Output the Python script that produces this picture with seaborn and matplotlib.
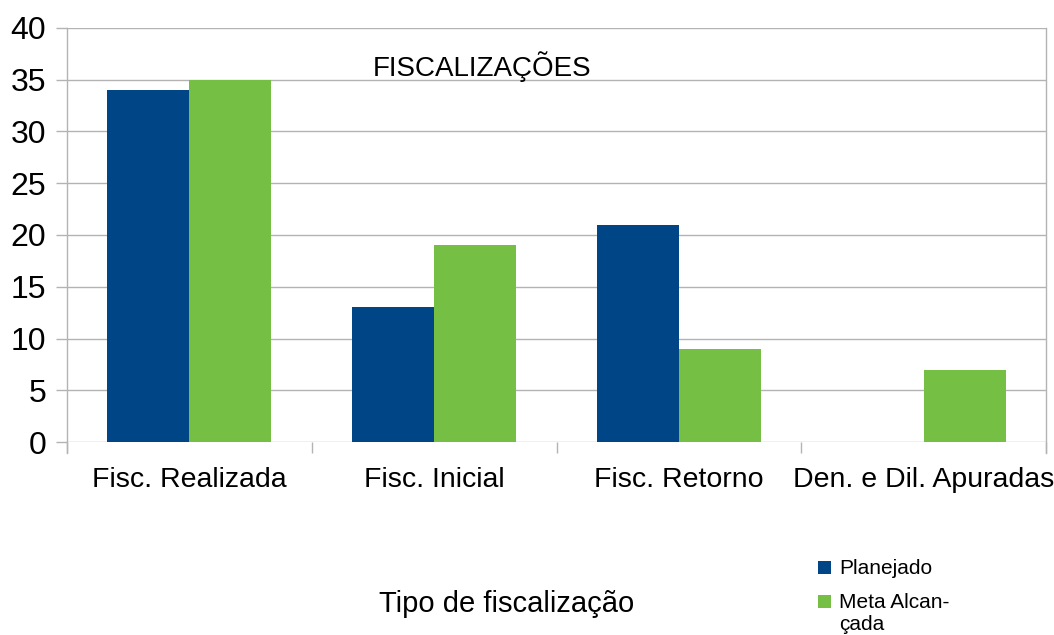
import matplotlib
matplotlib.use("Agg")
import matplotlib.pyplot as plt
import seaborn as sns
import pandas as pd
from matplotlib.ticker import FixedLocator, NullFormatter, FixedFormatter
from matplotlib.patches import Rectangle

categories = ["Fisc. Realizada", "Fisc. Inicial", "Fisc. Retorno", "Den. e Dil. Apuradas"]
planejado = [34, 13, 21, 0]
meta_alcancada = [35, 19, 9, 7]
series_names = ["Planejado", "Meta Alcançada"]
y_ticks = [0, 5, 10, 15, 20, 25, 30, 35, 40]

df = pd.DataFrame({
    "categoria": categories * 2,
    "valor": planejado + meta_alcancada,
    "serie": [series_names[0]] * len(categories) + [series_names[1]] * len(categories),
})

sns.set_theme(style="white")
plt.rcParams["font.family"] = ["Liberation Sans", "DejaVu Sans"]

fig = plt.figure(figsize=(10.54, 6.35), dpi=100)
ax = fig.add_axes([67/1054, 1 - 442/635, (1046 - 67)/1054, (442 - 28)/635])

colors = {"Planejado": "#004586", "Meta Alcançada": "#75bf44"}
sns.barplot(data=df, x="categoria", y="valor", hue="serie", order=categories,
            hue_order=series_names, palette=colors, width=0.67, saturation=1,
            linewidth=0, ax=ax, legend=False)

ax.set_ylim(0, 40)
ax.set_xlim(-0.5, len(categories) - 0.5)
ax.set_yticks(y_ticks)
ax.set_yticklabels([str(t) for t in y_ticks])
ax.grid(axis="y", color="#b3b3b3", linewidth=1.0)
ax.set_axisbelow(True)

ax.xaxis.set_major_locator(FixedLocator([i - 0.5 for i in range(len(categories) + 1)]))
ax.xaxis.set_major_formatter(NullFormatter())
ax.xaxis.set_minor_locator(FixedLocator(list(range(len(categories)))))
ax.xaxis.set_minor_formatter(FixedFormatter(categories))
ax.tick_params(axis="x", which="major", length=8, width=1, color="#b3b3b3", direction="out", bottom=True)
ax.tick_params(axis="x", which="minor", length=0, pad=18, labelsize=20.5, labelcolor="#000000")
ax.tick_params(axis="y", which="major", length=8, width=1, color="#b3b3b3", direction="out",
               left=True, pad=7, labelsize=23, labelcolor="#000000")

for side in ["top", "bottom"]:
    ax.spines[side].set_visible(False)
for side in ["left", "right"]:
    ax.spines[side].set_visible(True)
    ax.spines[side].set_color("#b3b3b3")
    ax.spines[side].set_linewidth(1.0)
    ax.spines[side].set_bounds(-1.06, 40)
ax.set_xlabel("")
ax.set_ylabel("")

fig.text(482/1054, 1 - 67/635, "FISCALIZAÇÕES", fontsize=20, ha="center", va="center", color="#000000")
fig.text(507/1054, 1 - 604/635, "Tipo de fiscalização", fontsize=21, ha="center", va="center", color="#000000")

# legend (manual, below right)
legend_rows = [("Planejado", 567, ["Planejado"]), ("Meta Alcançada", 601, ["Meta Alcan-", "çada"])]
for name, yc, lines in legend_rows:
    fig.patches.append(Rectangle((818/1054, 1 - (yc + 6.5)/635), 13/1054, 13/635,
                                 transform=fig.transFigure, facecolor=colors[name],
                                 edgecolor="none", figure=fig))
    for k, line in enumerate(lines):
        fig.text(839/1054, 1 - (yc + 1 + k * 23)/635, line, fontsize=15, ha="left", va="center",
                 color="#000000")

fig.savefig("out.png", dpi=100, facecolor="white")
